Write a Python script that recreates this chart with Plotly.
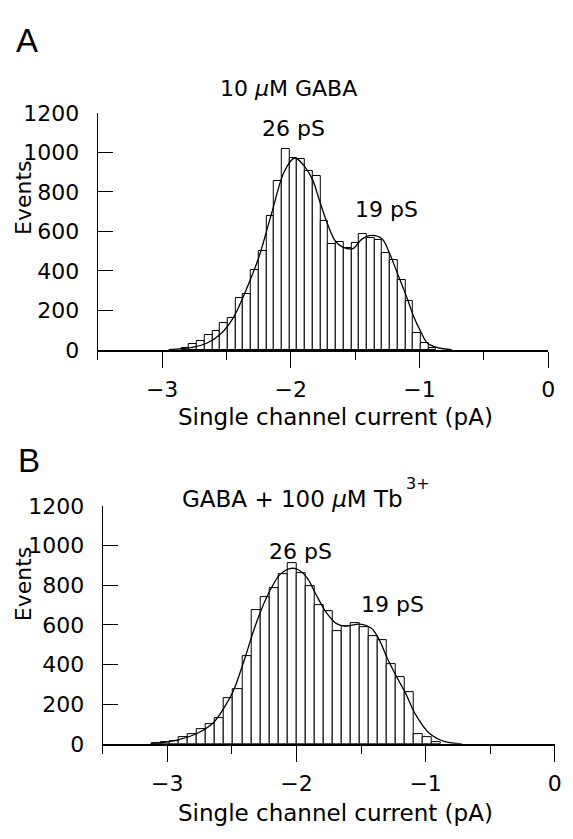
import plotly.graph_objects as go

# ---------------- data ----------------
# Panel A: 10 uM GABA (bin width 0.06 pA)
a_bin_centers = [-2.82, -2.76, -2.70, -2.64, -2.58, -2.52, -2.46, -2.40, -2.34, -2.28,
                 -2.22, -2.16, -2.10, -2.04, -1.98, -1.92, -1.86, -1.80, -1.74, -1.68,
                 -1.62, -1.56, -1.50, -1.44, -1.38, -1.32, -1.26, -1.20, -1.14, -1.08,
                 -1.02, -0.96, -0.90]
a_counts = [8, 28, 47, 74, 98, 136, 164, 265, 282, 404,
            499, 676, 857, 1019, 971, 966, 905, 880, 655, 535,
            548, 516, 540, 585, 565, 557, 491, 458, 352, 246,
            85, 33, 8]
a_bin_width = 0.06

a_fit_x = [-2.95, -2.85, -2.75, -2.65, -2.55, -2.45, -2.35, -2.25, -2.15, -2.05,
           -1.97, -1.90, -1.83, -1.78, -1.71, -1.65, -1.57, -1.51, -1.45, -1.37,
           -1.29, -1.24, -1.17, -1.10, -1.04, -0.99, -0.94, -0.86, -0.75]
a_fit_y = [2, 6, 15, 35, 78, 160, 300, 467, 690, 905,
           972, 935, 860, 762, 630, 548, 514, 516, 560, 580,
           562, 500, 385, 268, 160, 92, 35, 11, 1]

# Panel B: GABA + 100 uM Tb3+ (bin width 0.07 pA)
b_bin_centers = [-3.085, -3.015, -2.945, -2.875, -2.805, -2.735, -2.665, -2.595,
                 -2.525, -2.455, -2.385, -2.315, -2.245, -2.175, -2.105, -2.035,
                 -1.965, -1.895, -1.825, -1.755, -1.685, -1.615, -1.545, -1.475,
                 -1.405, -1.335, -1.265, -1.195, -1.125, -1.055, -0.985, -0.915]
b_counts = [3, 8, 15, 33, 47, 72, 98, 129,
            229, 278, 444, 673, 743, 787, 856, 913,
            860, 795, 702, 669, 567, 594, 611, 588,
            542, 526, 400, 335, 260, 49, 33, 10]
b_bin_width = 0.07

b_fit_x = [-3.13, -3.00, -2.90, -2.77, -2.64, -2.56, -2.49, -2.41, -2.33, -2.27,
           -2.20, -2.13, -2.05, -1.99, -1.92, -1.85, -1.77, -1.69, -1.62, -1.51,
           -1.42, -1.36, -1.30, -1.23, -1.15, -1.08, -0.97, -0.85, -0.72]
b_fit_y = [0, 10, 23, 52, 109, 183, 265, 412, 575, 681,
           780, 853, 885, 880, 840, 755, 664, 607, 594, 604,
           583, 526, 436, 345, 248, 150, 52, 11, 0]

x_major_ticks = [-3, -2, -1, 0]
x_minor_ticks = [-3.5, -2.5, -1.5, -0.5]
y_ticks = [0, 200, 400, 600, 800, 1000, 1200]

# ---------------- layout helpers ----------------
W, H = 573, 839
FONT = "DejaVu Sans"


def px(x):
    return x / W


def py(y):
    return 1 - y / H


fig = go.Figure()

for xs, ys, w, xa, ya in [(a_bin_centers, a_counts, a_bin_width, "x", "y"),
                          (b_bin_centers, b_counts, b_bin_width, "x2", "y2")]:
    fig.add_trace(go.Bar(x=xs, y=ys, width=w, xaxis=xa, yaxis=ya,
                         marker=dict(color="white", line=dict(color="black", width=1)),
                         showlegend=False, hoverinfo="x+y"))

for xs, ys, xa, ya in [(a_fit_x, a_fit_y, "x", "y"), (b_fit_x, b_fit_y, "x2", "y2")]:
    fig.add_trace(go.Scatter(x=xs, y=ys, mode="lines", xaxis=xa, yaxis=ya,
                             line=dict(color="black", width=1.3, shape="spline", smoothing=1.0),
                             showlegend=False))

xaxis_common = dict(range=[-3.5, 0], showline=True, linecolor="black", linewidth=1.6,
                    showgrid=False, zeroline=False, ticks="outside", ticklen=16,
                    tickwidth=1.2, tickcolor="black", tickmode="array",
                    tickvals=x_major_ticks, ticklabelstandoff=3,
                    tickfont=dict(family=FONT, size=22, color="black"),
                    minor=dict(tickmode="array", tickvals=x_minor_ticks, ticks="outside",
                               ticklen=8, tickwidth=1.2, tickcolor="black", showgrid=False))
yaxis_common = dict(range=[0, 1200], showline=True, linecolor="black", linewidth=1.3,
                    showgrid=False, zeroline=False, ticks="inside", ticklen=15,
                    tickwidth=1.2, tickcolor="black", tickmode="array", tickvals=y_ticks,
                    ticklabelstandoff=13,
                    tickfont=dict(family=FONT, size=22, color="black"))

fig.update_layout(
    width=W, height=H, margin=dict(l=0, r=0, t=0, b=0),
    paper_bgcolor="white", plot_bgcolor="white", bargap=0,
    xaxis=dict(domain=[px(99), px(555)], anchor="y", **xaxis_common),
    yaxis=dict(domain=[py(348.3), py(104.1)], anchor="x", **yaxis_common),
    xaxis2=dict(domain=[px(104), px(561.7)], anchor="y2", **xaxis_common),
    yaxis2=dict(domain=[py(754.3), py(509.3)], anchor="x2", **yaxis_common),
)

annots = [
    ("A", 27, 29, 33, "Liberation Sans", 0, "center"),
    ("B", 29, 462, 33, "Liberation Sans", 0, "center"),
    ("10 <i>μ</i>M GABA", 292, 79, 22, FONT, 0, "center"),
    ("26 pS", 297, 120, 22, FONT, 0, "center"),
    ("19 pS", 391, 204, 22, FONT, 0, "center"),
    ("GABA + 100 <i>μ</i>M Tb", 296, 502, 23, FONT, 0, "center"),
    ("3+", 409, 486, 16, FONT, 0, "left"),
    ("26 pS", 304, 556, 22, FONT, 0, "center"),
    ("19 pS", 397, 611, 22, FONT, 0, "center"),
    ("Single channel current (pA)", 340, 417, 23, FONT, 0, "center"),
    ("Single channel current (pA)", 340, 826, 23, FONT, 0, "center"),
    ("Events", 24, 191, 22, FONT, -90, "center"),
    ("Events", 24, 589, 22, FONT, -90, "center"),
]
for text, x, y, size, fam, ang, anchor in annots:
    fig.add_annotation(text=text, x=px(x), y=py(y), xref="paper", yref="paper",
                       xanchor=anchor, yanchor="middle", showarrow=False,
                       textangle=ang, font=dict(family=fam, size=size, color="black"))

fig.write_html("out.html")
